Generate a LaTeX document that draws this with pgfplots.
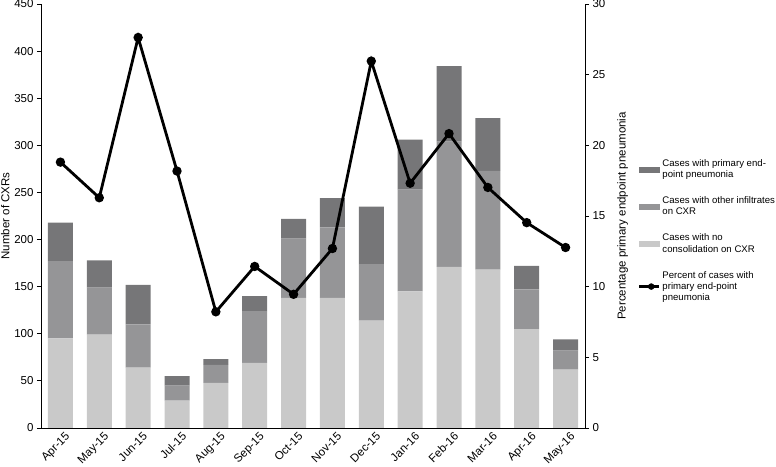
\documentclass[border=0pt]{standalone}
\usepackage{pgfplots}
\pgfplotsset{compat=1.18}
\usepackage{fontspec}
\setmainfont{Liberation Sans}
\definecolor{clight}{RGB}{201,201,201}
\definecolor{cmid}{RGB}{149,149,151}
\definecolor{cdark}{RGB}{118,118,120}
\begin{document}
\begin{tikzpicture}
\pgfplotsset{
  every axis/.append style={
    scale only axis, width=544pt, height=424pt,
    xmin=-0.5, xmax=13.5,
    /pgf/number format/assume math mode=true,
    tick label style={font=\fontsize{11.5}{13}\selectfont},
    label style={font=\fontsize{11.5}{13}\selectfont},
    tick align=outside,
    major tick length=4pt,
    axis line style={black, line width=0.8pt},
    every tick/.style={black, line width=0.8pt},
  }
}
\begin{axis}[
  name=main,
  axis x line*=bottom, axis y line*=left,
  ymin=0, ymax=450, ytick={0,50,...,450},
  ybar stacked, bar width=25pt,
  xtick={0,...,13},
  xticklabels={Apr-15,May-15,Jun-15,Jul-15,Aug-15,Sep-15,Oct-15,Nov-15,Dec-15,Jan-16,Feb-16,Mar-16,Apr-16,May-16},
  xticklabel style={rotate=45, anchor=north east, inner sep=0.5pt, yshift=-2pt, xshift=4pt},
  x tick style={draw=none},
  minor xtick={-0.5,0.5,...,13.5},
  minor tick length=4pt,
  ylabel={Number of CXRs},
  ylabel style={yshift=-2pt},
  legend style={draw=none, at={(1.097,0.465)}, anchor=west,
    font=\fontsize{9.6}{11.2}\selectfont, cells={align=left}, row sep=13.5pt, inner sep=0pt},
  legend cell align=left,
]
\addlegendimage{legend image code/.code={\fill[cdark] (0pt,-2.5pt) rectangle (20pt,2.5pt);}}
\addlegendentry{Cases with primary end-\\point pneumonia}
\addlegendimage{legend image code/.code={\fill[cmid] (0pt,-2.5pt) rectangle (20pt,2.5pt);}}
\addlegendentry{Cases with other infiltrates\\on CXR}
\addlegendimage{legend image code/.code={\fill[clight] (0pt,-2.5pt) rectangle (20pt,2.5pt);}}
\addlegendentry{Cases with no\\consolidation on CXR}
\addlegendimage{legend image code/.code={\draw[black, line width=2.5pt] (0pt,0pt) -- (20pt,0pt); \fill[black] (12pt,0pt) circle (3pt);}}
\addlegendentry{Percent of cases with\\primary end-point\\pneumonia}
\addplot[fill=clight, draw=none, forget plot] coordinates {
(0,95) (1,99) (2,64) (3,29) (4,48) (5,69) (6,138) (7,138) (8,114) (9,145) (10,171) (11,168) (12,105) (13,62)};
\addplot[fill=cmid, draw=none, forget plot] coordinates {
(0,82) (1,50) (2,46) (3,16) (4,19) (5,55) (6,63) (7,75) (8,60) (9,108) (10,133) (11,105) (12,42) (13,20)};
\addplot[fill=cdark, draw=none, forget plot] coordinates {
(0,41) (1,29) (2,42) (3,10) (4,6) (5,16) (6,21) (7,31) (8,61) (9,53) (10,80) (11,56) (12,25) (13,12)};
\end{axis}
\begin{axis}[
  axis x line=none, axis y line*=right,
  ymin=0, ymax=30, ytick={0,5,...,30},
  ylabel={Percentage primary endpoint pneumonia},
  ylabel style={yshift=-5pt},
]
\addplot[black, line width=2.8pt, mark=*, mark size=3.2pt] coordinates {
(0,18.81) (1,16.29) (2,27.63) (3,18.18) (4,8.22) (5,11.43) (6,9.46) (7,12.70) (8,25.96) (9,17.32) (10,20.83) (11,17.02) (12,14.53) (13,12.77)};
\end{axis}
\pgfresetboundingbox
\path ([xshift=-41pt,yshift=-39pt]main.south west) rectangle ([xshift=191pt,yshift=4pt]main.north east);
\end{tikzpicture}
\end{document}
